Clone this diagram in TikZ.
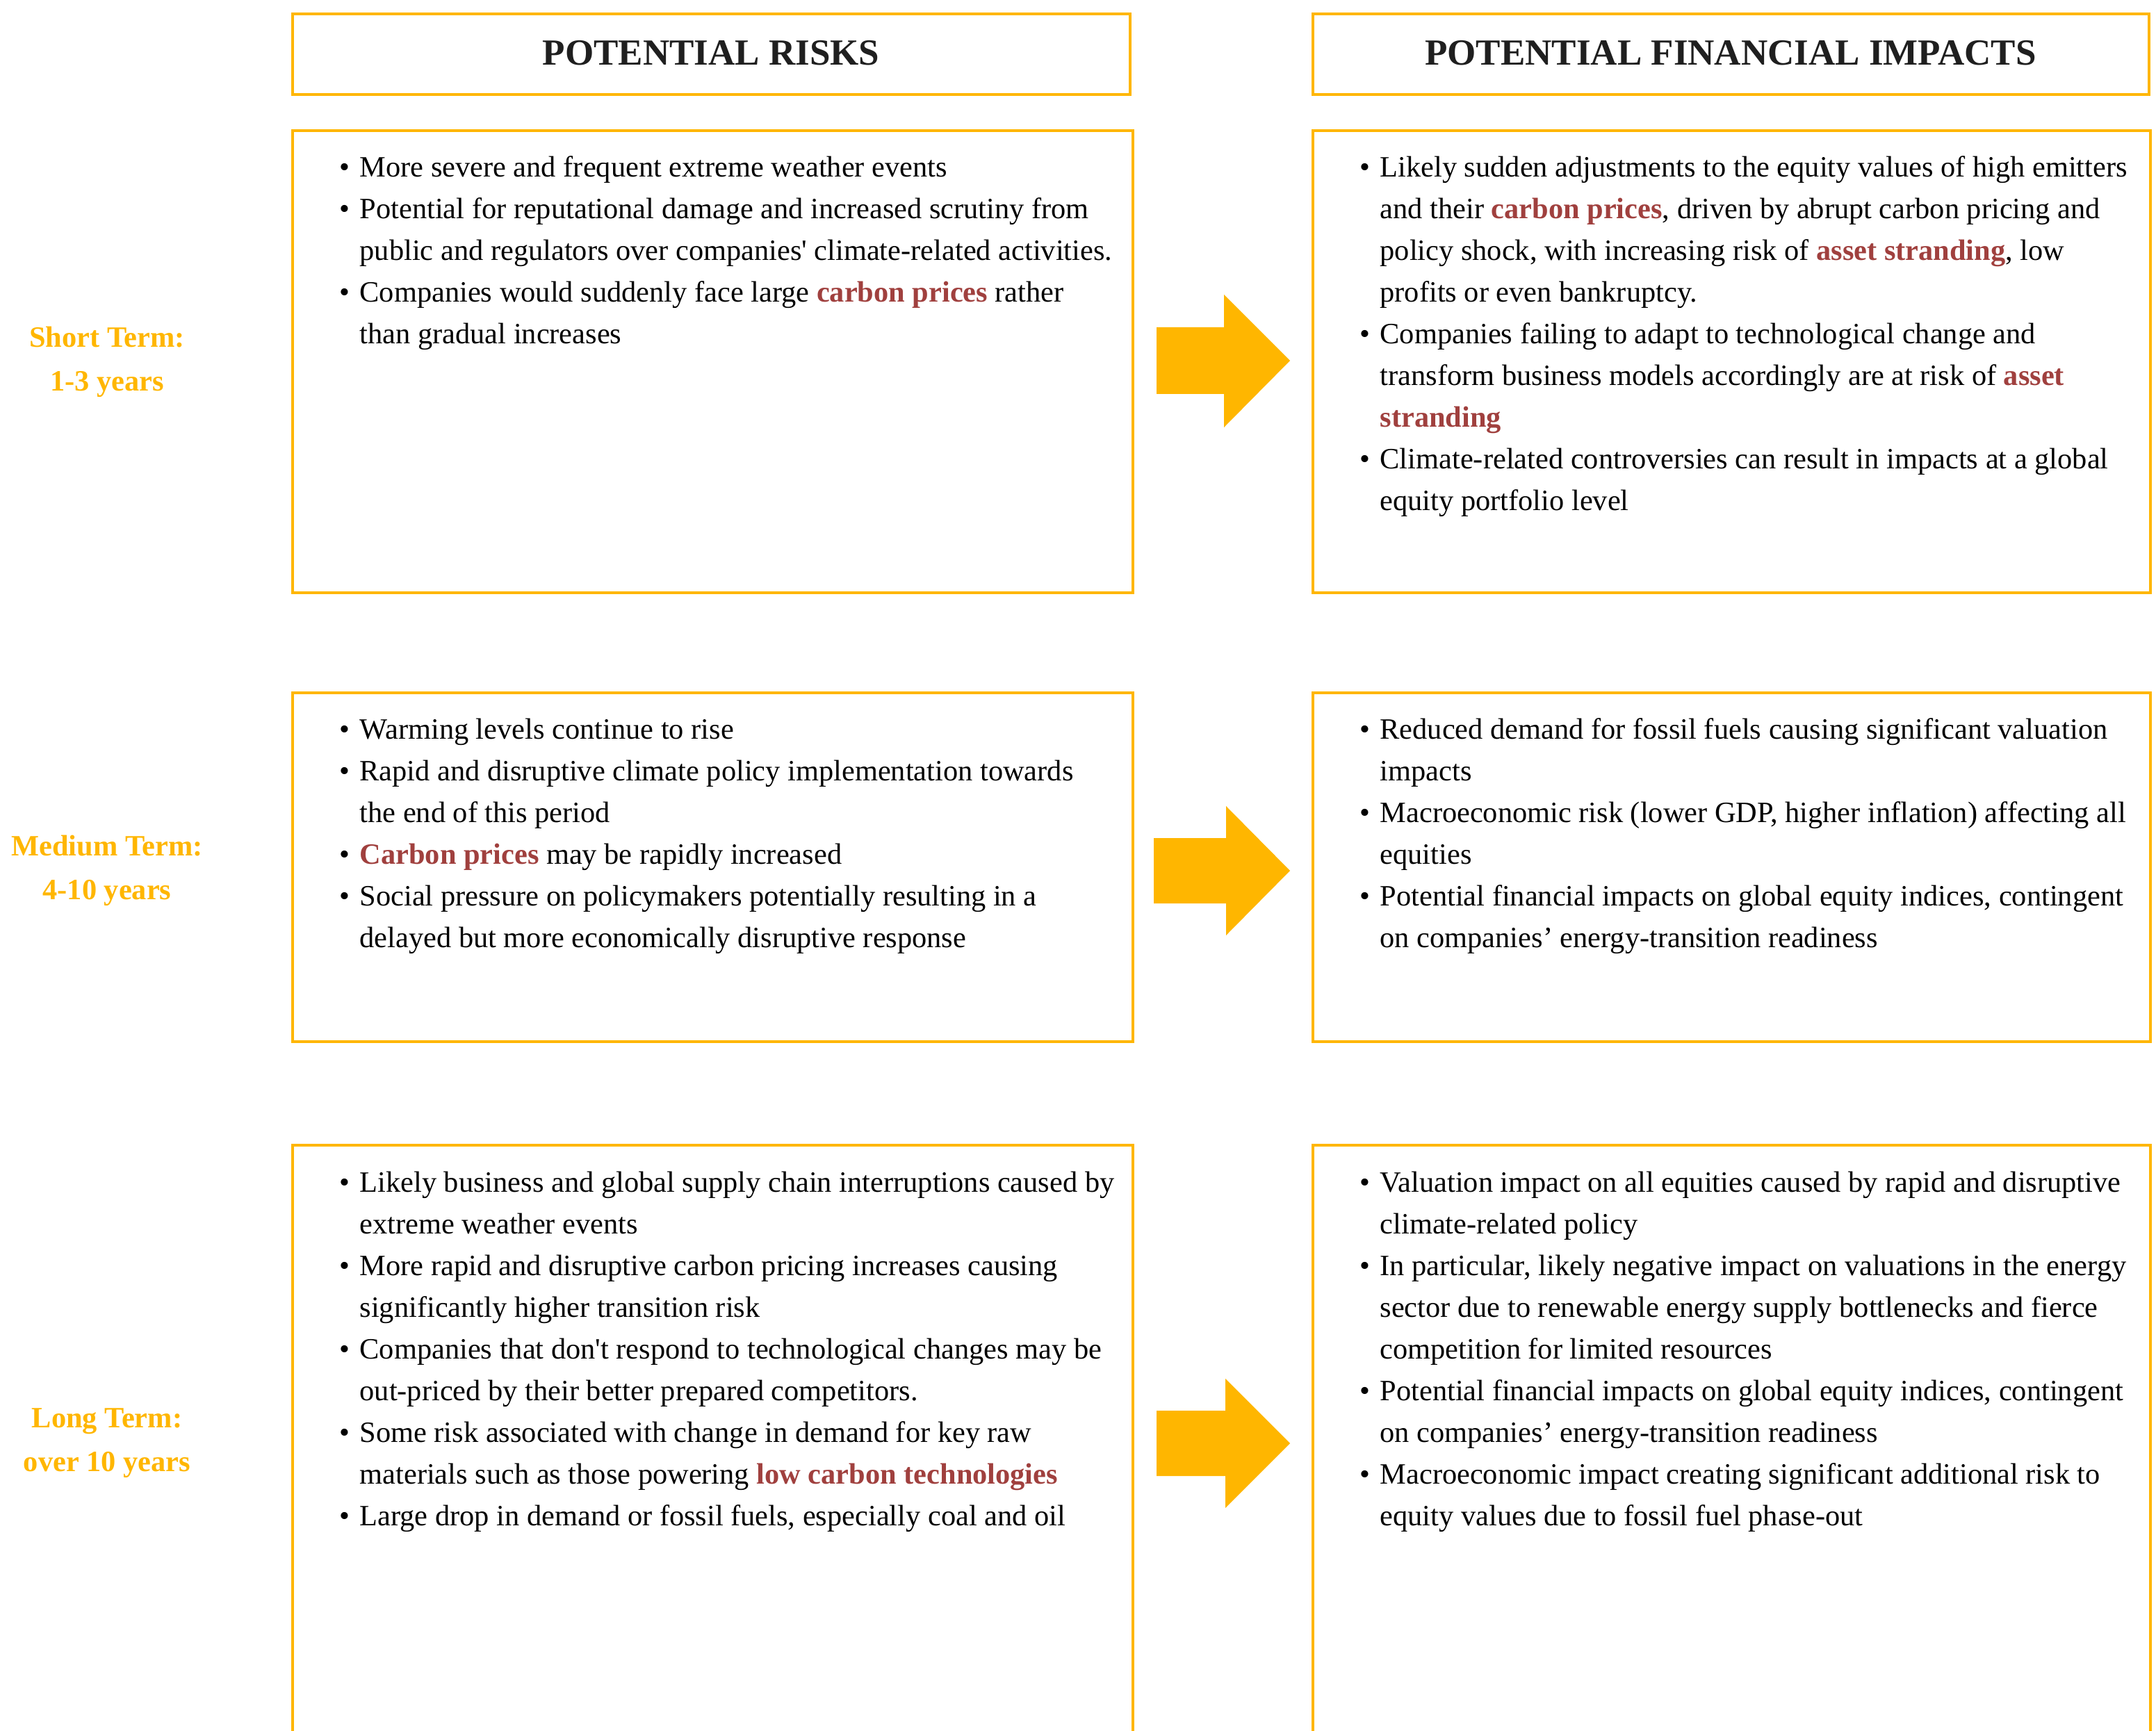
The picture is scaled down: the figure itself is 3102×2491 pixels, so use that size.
\documentclass[tikz,border=0pt]{standalone}
\usepackage{fontspec}
\setmainfont{Liberation Serif}
\definecolor{gold}{HTML}{FFB600}
\definecolor{brick}{HTML}{A0403E}
\newcommand{\hl}[1]{\textcolor{brick}{\textbf{#1}}}
\newcommand{\sq}{\textquotesingle}
\newenvironment{blist}{\begin{tabular}{@{}l@{\hspace{3.5pt}}l@{}}}{\end{tabular}}
\tikzset{
  frame/.style = {draw=gold, line width=1pt},
  head/.style = {font=\fontsize{13.25}{16}\selectfont\bfseries, text=black!88},
  term/.style = {font=\fontsize{10.6}{15.75}\selectfont\bfseries, text=gold, align=center},
  listtext/.style = {font=\fontsize{10.6}{15}\selectfont, anchor=north west, inner sep=0pt},
  bigarrow/.style = {fill=gold}
}

\begin{document}
\begin{tikzpicture}[x=0.25pt, y=-0.25pt]
		\useasboundingbox (0,0) rectangle (3102,2491);
		%%%%%%%%%%%%% frames
		\draw[frame] (421,20) rectangle (1626,136);
		\draw[frame] (1889,20) rectangle (3092,136);
		\draw[frame] (421,188) rectangle (1630,853);
		\draw[frame] (1889,188) rectangle (3094,853);
		\draw[frame] (421,997) rectangle (1630,1499);
		\draw[frame] (1889,997) rectangle (3094,1499);
		\draw[frame] (421,1648) rectangle (1630,2506);
		\draw[frame] (1889,1648) rectangle (3094,2506);
		%%%%%%%%%%%%% headings
		\node[head] (risks) at (1023,76) {POTENTIAL RISKS};
		\node[head] (impacts) at (2490,76) {POTENTIAL FINANCIAL IMPACTS};
		%%%%%%%%%%%%% horizons
		\node[term] (short) at (154,521) {Short Term:\\1-3 years};
		\node[term] (medium) at (154,1253) {Medium Term:\\4-10 years};
		\node[term] (long) at (154,2077) {Long Term:\\over 10 years};
		%%%%%%%%%%%%% arrows
		\fill[bigarrow] (1664,471) -- (1761,471) -- (1761,424) -- (1856,519) -- (1761,615) -- (1761,567) -- (1664,567) -- cycle;
		\fill[bigarrow] (1660,1206) -- (1764,1206) -- (1764,1160) -- (1856,1253) -- (1764,1346) -- (1764,1300) -- (1660,1300) -- cycle;
		\fill[bigarrow] (1664,2030) -- (1763,2030) -- (1763,1984) -- (1856,2077) -- (1763,2170) -- (1763,2124) -- (1664,2124) -- cycle;
		%%%%%%%%%%%%% short term
		\node[listtext] (risk1) at (488,212) {\begin{blist}
			\textbullet & More severe and frequent extreme weather events \\
			\textbullet & Potential for reputational damage and increased scrutiny from \\
			& public and regulators over companies\sq{} climate-related activities. \\
			\textbullet & Companies would suddenly face large \hl{carbon prices} rather \\
			& than gradual increases
		\end{blist}};
		\node[listtext] (impact1) at (1956,212) {\begin{blist}
			\textbullet & Likely sudden adjustments to the equity values of high emitters \\
			& and their \hl{carbon prices}, driven by abrupt carbon pricing and \\
			& policy shock, with increasing risk of \hl{asset stranding}, low \\
			& profits or even bankruptcy. \\
			\textbullet & Companies failing to adapt to technological change and \\
			& transform business models accordingly are at risk of \hl{asset} \\
			& \hl{stranding} \\
			\textbullet & Climate-related controversies can result in impacts at a global \\
			& equity portfolio level
		\end{blist}};
		%%%%%%%%%%%%% medium term
		\node[listtext] (risk2) at (488,1021) {\begin{blist}
			\textbullet & Warming levels continue to rise \\
			\textbullet & Rapid and disruptive climate policy implementation towards \\
			& the end of this period \\
			\textbullet & \hl{Carbon prices} may be rapidly increased \\
			\textbullet & Social pressure on policymakers potentially resulting in a \\
			& delayed but more economically disruptive response
		\end{blist}};
		\node[listtext] (impact2) at (1956,1021) {\begin{blist}
			\textbullet & Reduced demand for fossil fuels causing significant valuation \\
			& impacts \\
			\textbullet & Macroeconomic risk (lower GDP, higher inflation) affecting all \\
			& equities \\
			\textbullet & Potential financial impacts on global equity indices, contingent \\
			& on companies’ energy-transition readiness
		\end{blist}};
		%%%%%%%%%%%%% long term
		\node[listtext] (risk3) at (488,1673) {\begin{blist}
			\textbullet & Likely business and global supply chain interruptions caused by \\
			& extreme weather events \\
			\textbullet & More rapid and disruptive carbon pricing increases causing \\
			& significantly higher transition risk \\
			\textbullet & Companies that don\sq{}t respond to technological changes may be \\
			& out-priced by their better prepared competitors. \\
			\textbullet & Some risk associated with change in demand for key raw \\
			& materials such as those powering \hl{low carbon technologies} \\
			\textbullet & Large drop in demand or fossil fuels, especially coal and oil
		\end{blist}};
		\node[listtext] (impact3) at (1956,1673) {\begin{blist}
			\textbullet & Valuation impact on all equities caused by rapid and disruptive \\
			& climate-related policy \\
			\textbullet & In particular, likely negative impact on valuations in the energy \\
			& sector due to renewable energy supply bottlenecks and fierce \\
			& competition for limited resources \\
			\textbullet & Potential financial impacts on global equity indices, contingent \\
			& on companies’ energy-transition readiness \\
			\textbullet & Macroeconomic impact creating significant additional risk to \\
			& equity values due to fossil fuel phase-out
		\end{blist}};
\end{tikzpicture}
\end{document}
